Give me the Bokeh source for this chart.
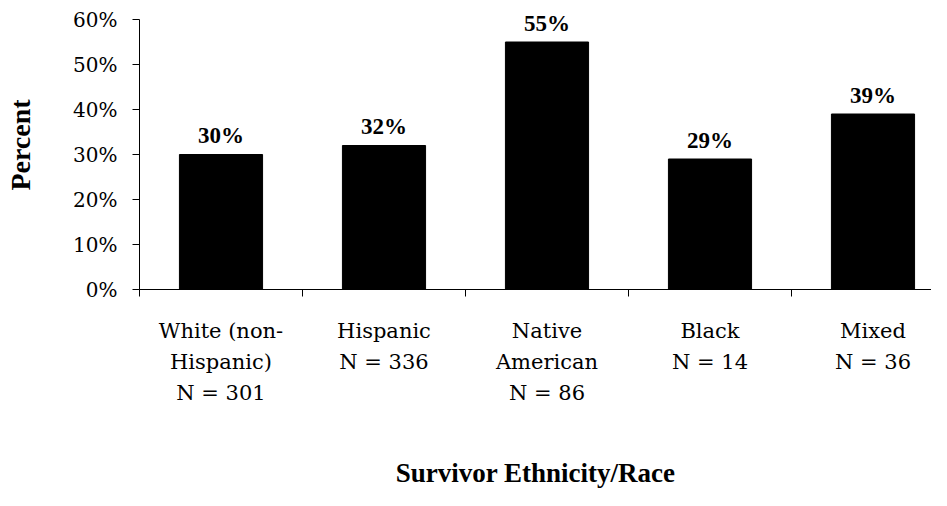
from bokeh.plotting import figure
from bokeh.models import (Range1d, FixedTicker, NumeralTickFormatter,
                          ColumnDataSource, LinearAxis)
from bokeh.core.properties import value
from bokeh.embed import file_html
from bokeh.resources import INLINE

# ---- data ----
categories = ["White (non-\nHispanic)\nN = 301", "Hispanic\nN = 336",
              "Native\nAmerican\nN = 86", "Black\nN = 14", "Mixed\nN = 36"]
percents = [0.30, 0.32, 0.55, 0.29, 0.39]
value_labels = ["30%", "32%", "55%", "29%", "39%"]
y_ticks = [0, 0.1, 0.2, 0.3, 0.4, 0.5, 0.6]

centers = [i + 0.5 for i in range(len(categories))]
boundaries = [float(i) for i in range(len(categories) + 1)]
split = [c.split("\n") for c in categories]
n_lines = max(len(s) for s in split)
line_rows = [[s[k] if k < len(s) else "" for s in split] for k in range(n_lines)]

BOLD_FONT = "Liberation Serif"
REG_FONT = "DejaVu Serif"

src = ColumnDataSource(dict(x=centers, top=percents, lab=value_labels))

p = figure(width=931, height=490, output_backend="svg", toolbar_location=None,
           x_range=Range1d(0, 792 / 163), y_range=Range1d(0, 289 / 450),
           min_border_left=139, min_border_right=0, min_border_top=0,
           min_border_bottom=201, outline_line_color=None,
           background_fill_color="white", border_fill_color="white")
p.xgrid.visible = False
p.ygrid.visible = False

p.vbar(x="x", top="top", width=0.51, source=src, fill_color="black",
       line_color="black", line_width=1)
p.text(x="x", y="top", text="lab", source=src, text_align="center",
       text_baseline="alphabetic", y_offset=-19,
       text_font=value(BOLD_FONT), text_font_style="bold", text_font_size="23px",
       text_color="black")

# y axis
ya = p.yaxis[0]
ya.ticker = FixedTicker(ticks=y_ticks, minor_ticks=[])
ya.formatter = NumeralTickFormatter(format="0%")
ya.bounds = (0, 0.6)
ya.major_tick_out = 7
ya.major_tick_in = 0
ya.minor_tick_line_color = None
ya.major_label_standoff = 15
ya.major_label_text_font = REG_FONT
ya.major_label_text_font_size = "20px"
ya.major_label_text_color = "black"
ya.axis_line_color = "black"
ya.major_tick_line_color = "black"
ya.axis_label = "Percent"
ya.axis_label_text_font = BOLD_FONT
ya.axis_label_text_font_style = "bold"
ya.axis_label_text_font_size = "28px"
ya.axis_label_text_color = "black"
ya.axis_label_standoff = 34

# x axis: first line of category labels + axis line + boundary ticks
xa = p.xaxis[0]
xa.ticker = FixedTicker(ticks=centers, minor_ticks=boundaries)
xa.major_label_overrides = {c: lab for c, lab in zip(centers, line_rows[0])}
xa.major_tick_out = 0
xa.major_tick_in = 0
xa.major_tick_line_color = None
xa.minor_tick_out = 7
xa.minor_tick_in = 0
xa.minor_tick_line_color = "black"
xa.axis_line_color = "black"
xa.major_label_standoff = 22
xa.major_label_text_font = REG_FONT
xa.major_label_text_font_size = "21px"
xa.major_label_text_color = "black"

# further label lines as extra label-only axes stacked below
last = xa
for row in line_rows[1:]:
    ax = LinearAxis(ticker=FixedTicker(ticks=centers, minor_ticks=[]),
                    major_label_overrides={c: lab for c, lab in zip(centers, row)},
                    axis_line_color=None, major_tick_line_color=None,
                    minor_tick_line_color=None, major_tick_out=0, major_tick_in=0,
                    minor_tick_out=0, minor_tick_in=0, major_label_standoff=4,
                    major_label_text_font=REG_FONT,
                    major_label_text_font_size="21px",
                    major_label_text_color="black")
    p.add_layout(ax, "below")
    last = ax

last.axis_label = "Survivor Ethnicity/Race"
last.axis_label_text_font = BOLD_FONT
last.axis_label_text_font_style = "bold"
last.axis_label_text_font_size = "27px"
last.axis_label_text_color = "black"
last.axis_label_standoff = 50

open("out.html", "w").write(file_html(p, INLINE))
